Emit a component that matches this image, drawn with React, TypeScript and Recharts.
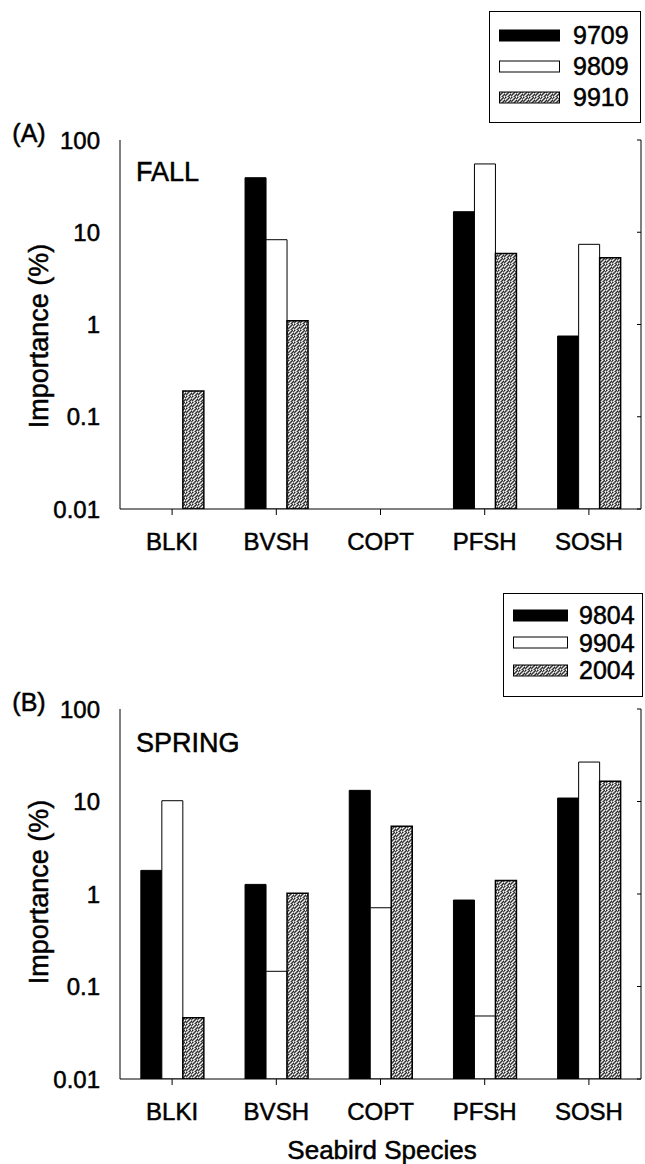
import React from 'react';
import {
  BarChart, Bar, XAxis, YAxis, Legend, Customized,
} from 'recharts';

// categories and series (log scale, % importance)
const species = ['BLKI', 'BVSH', 'COPT', 'PFSH', 'SOSH'];

const fallYears = ['9709', '9809', '9910'];
const fall9709 = [null, 39, null, 16.7, 0.75];
const fall9809 = [null, 8.3, null, 55, 7.4];
const fall9910 = [0.19, 1.1, null, 5.9, 5.3];

const springYears = ['9804', '9904', '2004'];
const spring9804 = [1.8, 1.27, 13.2, 0.86, 10.9];
const spring9904 = [10.2, 0.146, 0.71, 0.048, 26.7];
const spring2004 = [0.046, 1.02, 5.4, 1.4, 16.6];

const yTicks = [0.01, 0.1, 1, 10, 100];

const FONT = '"Liberation Sans", Arial, sans-serif';
// scanned print looks heavier than plain regular weight
const INK = { fill: '#000', stroke: '#000', strokeWidth: 0.5 };

const buildRows = (a: (number | null)[], b: (number | null)[], c: (number | null)[]) =>
  species.map((name, i) => ({ name, s0: a[i], s1: b[i], s2: c[i] }));

const fallData = buildRows(fall9709, fall9809, fall9910);
const springData = buildRows(spring9804, spring9904, spring2004);

// speckled grey fill, like the scanned print
const dots = [
  [0, 0, '#222'], [2, 0, '#f4f4f4'], [4, 0, '#333'], [5, 0, '#e8e8e8'],
  [1, 1, '#eee'], [3, 1, '#2a2a2a'], [5, 1, '#555'],
  [0, 2, '#f0f0f0'], [2, 2, '#3a3a3a'], [4, 2, '#fafafa'],
  [1, 3, '#2f2f2f'], [3, 3, '#e4e4e4'], [5, 3, '#262626'],
  [0, 4, '#444'], [2, 4, '#f6f6f6'], [4, 4, '#303030'],
  [1, 5, '#e0e0e0'], [3, 5, '#3c3c3c'], [5, 5, '#f2f2f2'],
];
const Speckle = ({ id }: { id: string }) => (
  <pattern id={id} width="6" height="6" patternUnits="userSpaceOnUse">
    <rect width="6" height="6" fill="#8c8c8c" />
    {dots.map(([x, y, c], i) => (
      <rect key={i} x={x as number} y={y as number} width="1" height="1" fill={c as string} />
    ))}
  </pattern>
);

const LegendBox = ({ years, id, rowGap, swatchW, textLeft }: any) => (
  <div style={{ border: '1.5px solid #000', width: '100%', height: '100%', boxSizing: 'border-box', background: '#fff', fontFamily: FONT, paddingTop: 8 }}>
    {years.map((y: string, i: number) => (
      <div key={y} style={{ display: 'flex', alignItems: 'center', height: rowGap }}>
        <svg width={swatchW + 12} height={14} style={{ marginLeft: 9 }}>
          <defs><Speckle id={id} /></defs>
          <rect x={0.5} y={1} width={swatchW} height={11}
            fill={i === 0 ? '#000' : i === 1 ? '#fff' : `url(#${id})`} stroke="#000" strokeWidth={1} />
        </svg>
        <span style={{ fontSize: 25, color: '#000', marginLeft: textLeft, lineHeight: 1, WebkitTextStroke: '0.5px #000' }}>{y}</span>
      </div>
    ))}
  </div>
);

const Panel = ({ data, years, letter, season, height, margin, legendPos, legendRow, swatchW, textLeft, patId, titleY, showXTitle }: any) => (
  <BarChart width={645} height={height} data={data} margin={margin} barCategoryGap="20%" barGap={0}>
    <defs><Speckle id={patId} /></defs>
    <XAxis dataKey="name" height={40} tickSize={6} tickMargin={18} interval={0}
      axisLine={{ stroke: '#000' }} tickLine={{ stroke: '#000' }}
      tick={{ ...INK, fontSize: 24, fontFamily: FONT }} />
    <XAxis xAxisId="top" dataKey="name" orientation="top" height={0} tick={false} tickLine={false}
      axisLine={{ stroke: '#000' }} />
    <YAxis scale="log" domain={[0.01, 100]} ticks={yTicks} allowDataOverflow width={60}
      tickSize={0} tickMargin={20} axisLine={{ stroke: '#000' }} tickLine={false}
      tickFormatter={(v: number) => String(v)}
      tick={{ ...INK, fontSize: 24, fontFamily: FONT }} />
    <YAxis yAxisId="right" orientation="right" mirror scale="log" domain={[0.01, 100]} ticks={yTicks}
      allowDataOverflow tickSize={4} tickFormatter={() => ''} axisLine={{ stroke: '#000' }}
      tickLine={{ stroke: '#000' }} />
    <Bar dataKey="s0" name={years[0]} fill="#000" stroke="#000" strokeWidth={1} isAnimationActive={false} />
    <Bar dataKey="s1" name={years[1]} fill="#fff" stroke="#000" strokeWidth={1} isAnimationActive={false} />
    <Bar dataKey="s2" name={years[2]} fill={`url(#${patId})`} stroke="#000" strokeWidth={1.5} isAnimationActive={false} />
    <Legend layout="vertical" align="center" verticalAlign="middle"
      wrapperStyle={{ ...legendPos, position: 'absolute', margin: 0, padding: 0 }}
      content={() => <LegendBox years={years} id={patId + 'L'} rowGap={legendRow} swatchW={swatchW} textLeft={textLeft} />} />
    <Customized component={() => (
      <g fontFamily={FONT} {...INK}>
        <text x={29} y={titleY.letter} fontSize={25} textAnchor="middle" dominantBaseline="central">{letter}</text>
        <text x={136} y={titleY.season} fontSize={27} dominantBaseline="central">{season}</text>
        <text transform={`translate(39,${titleY.yTitle}) rotate(-90)`} fontSize={27} textAnchor="middle" dominantBaseline="central">Importance (%)</text>
        {showXTitle && (
          <text x={382} y={titleY.xTitle} fontSize={26} textAnchor="middle" dominantBaseline="central">Seabird Species</text>
        )}
      </g>
    )} />
  </BarChart>
);

export default function App() {
  return (
    <div style={{ position: 'absolute', left: 0, top: 0, width: 645, height: 1164, background: '#fff' }}>
      <div style={{ position: 'absolute', left: 0, top: 0 }}>
        <Panel data={fallData} years={fallYears} letter="(A)" season="FALL" height={580}
          margin={{ top: 140, right: 4, bottom: 31, left: 60 }}
          legendPos={{ left: 489, top: 11, width: 152, height: 112 }} legendRow={31} swatchW={60} textLeft={2}
          patId="speckA" titleY={{ letter: 133, season: 172, yTitle: 336 }} showXTitle={false} />
      </div>
      <div style={{ position: 'absolute', left: 0, top: 580 }}>
        <Panel data={springData} years={springYears} letter="(B)" season="SPRING" height={584}
          margin={{ top: 129, right: 4, bottom: 45, left: 60 }}
          legendPos={{ left: 503, top: 13, width: 140, height: 104 }} legendRow={27.5} swatchW={54} textLeft={0}
          patId="speckB" titleY={{ letter: 122, season: 163, yTitle: 312, xTitle: 570 }} showXTitle />
      </div>
    </div>
  );
}
